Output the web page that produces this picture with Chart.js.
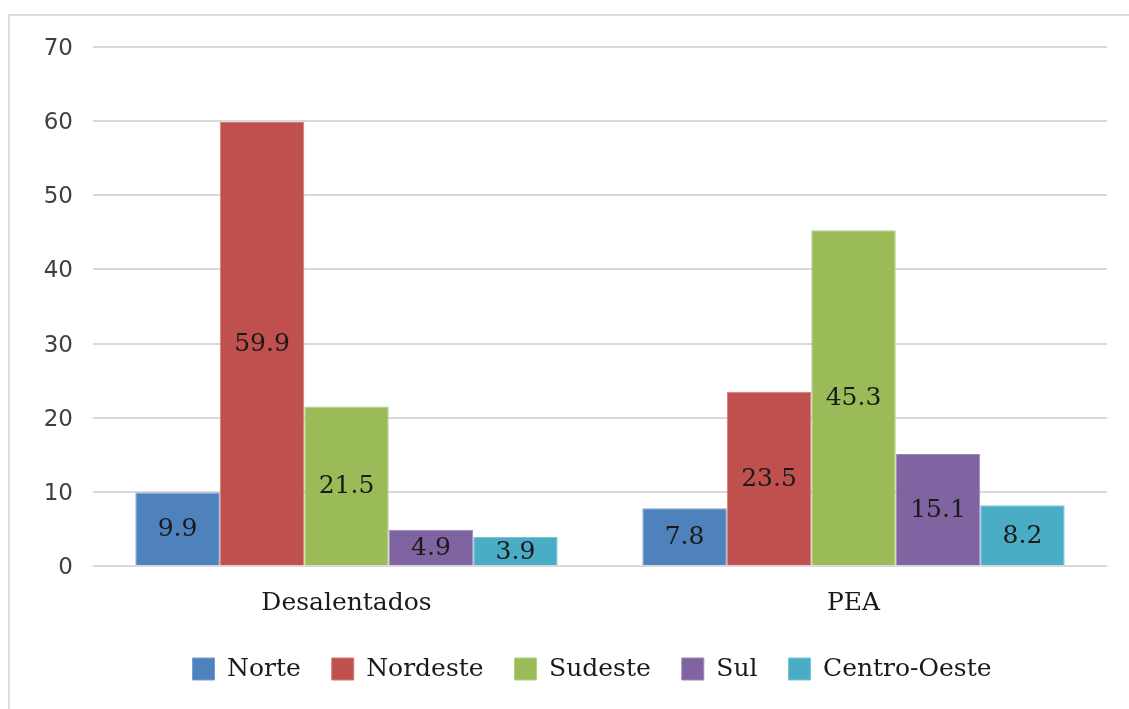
<!DOCTYPE html>
<html>
<head>
<meta charset="utf-8">
<script src="https://cdn.jsdelivr.net/npm/chart.js@4/dist/chart.umd.min.js"></script>
<style>
  html, body { margin: 0; padding: 0; background: #fff; overflow: hidden; }
  #wrap { position: relative; width: 1129px; height: 709px; }
  #frame { position: absolute; left: 8px; top: 14px; width: 1200px; height: 800px;
           border-left: 2px solid #dcdcdc; border-top: 2px solid #dcdcdc; pointer-events: none; }
  canvas { position: absolute; left: 0; top: 0; }
</style>
</head>
<body>
<div id="wrap">
  <canvas id="chart" width="1129" height="709"></canvas>
  <div id="frame"></div>
</div>
<script>
// categorias e valores (%)
const categories = ['Desalentados', 'PEA'];
const regions = ['Norte', 'Nordeste', 'Sudeste', 'Sul', 'Centro-Oeste'];
const norte = [9.9, 7.8];
const nordeste = [59.9, 23.5];
const sudeste = [21.5, 45.3];
const sul = [4.9, 15.1];
const centroOeste = [3.9, 8.2];
const yTicks = [0, 10, 20, 30, 40, 50, 60, 70];

const colors = ['#4f81bd', '#c0504d', '#9bbb59', '#8064a2', '#4bacc6'];
const borders = ['#7a9fd0', '#d27b78', '#b5cf85', '#9d86bb', '#7cc3d6'];
const series = [norte, nordeste, sudeste, sul, centroOeste];

const SERIF = "'DejaVu Serif', serif";
const SANS = "'DejaVu Sans', sans-serif";

// rótulos dentro das barras
const barLabels = {
  id: 'barLabels',
  afterDatasetsDraw(chart) {
    const ctx = chart.ctx;
    ctx.save();
    ctx.font = '25px ' + SERIF;
    ctx.fillStyle = '#1a1a1a';
    ctx.textAlign = 'center';
    ctx.textBaseline = 'middle';
    chart.data.datasets.forEach((ds, i) => {
      chart.getDatasetMeta(i).data.forEach((bar, j) => {
        const p = bar.getCenterPoint();
        ctx.fillText(ds.data[j].toFixed(1), p.x, p.y + 1);
      });
    });
    ctx.restore();
  }
};

// legenda centrada um pouco à direita, como no original
const shiftLegend = {
  id: 'shiftLegend',
  afterLayout(chart) { if (chart.legend) chart.legend.left = 77; }
};

new Chart(document.getElementById('chart'), {
  type: 'bar',
  data: {
    labels: categories,
    datasets: regions.map((r, i) => ({
      label: r,
      data: series[i],
      backgroundColor: colors[i],
      borderColor: borders[i],
      borderWidth: 1,
      categoryPercentage: 0.833,
      barPercentage: 1
    }))
  },
  options: {
    responsive: false,
    animation: false,
    layout: { padding: { left: 0, right: 22, top: 47, bottom: 17.5 } },
    plugins: {
      tooltip: { enabled: false },
      legend: {
        position: 'bottom',
        labels: {
          color: '#1a1a1a',
          font: { family: SERIF, size: 25 },
          boxWidth: 22, boxHeight: 22,
          padding: 31
        }
      }
    },
    scales: {
      x: {
        afterFit: s => { s.height = 59.5; },
        grid: { display: false, drawTicks: false },
        border: { display: false },
        ticks: { color: '#1a1a1a', font: { family: SERIF, size: 25 }, padding: 22 }
      },
      y: {
        min: 0, max: 70,
        afterFit: s => { s.width = 93; },
        afterBuildTicks: s => { s.ticks = yTicks.map(v => ({ value: v })); },
        grid: { color: '#d9d9d9', lineWidth: 2, drawTicks: false },
        border: { display: false },
        ticks: { color: '#404040', font: { family: SANS, size: 23 }, padding: 20, labelOffset: 2 }
      }
    }
  },
  plugins: [barLabels, shiftLegend]
});
</script>
</body>
</html>
